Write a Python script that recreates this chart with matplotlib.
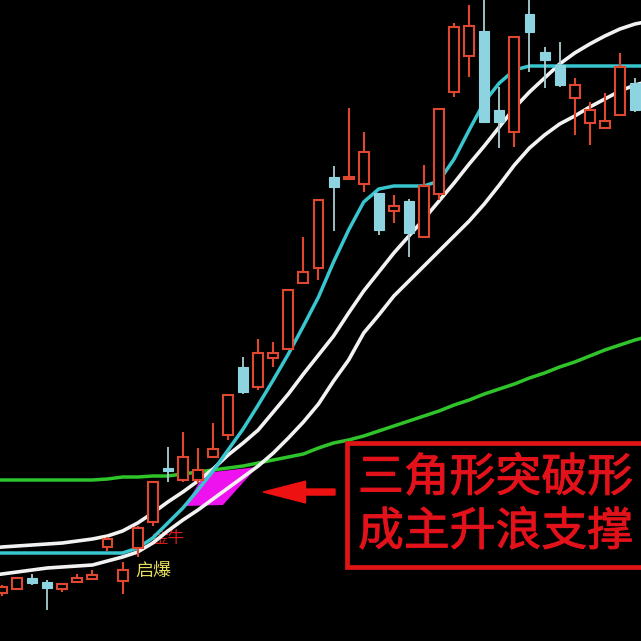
import numpy as np
import matplotlib
matplotlib.use("Agg")
import matplotlib.pyplot as plt
import matplotlib.patheffects as pe
from matplotlib.patches import Rectangle, Polygon, FancyArrow

plt.rcParams['font.family'] = ['Noto Sans CJK SC', 'DejaVu Sans']

# ---- daily bars (index 0..42) ----
opens = [4.8, 5.2, 6.3, 5.9, 5.2, 5.9, 6.2, 9.4, 6.0, 9.3,
         11.9, 17.3, 16.1, 16.1, 18.4, 20.6, 27.4, 25.4, 28.3, 29.2,
         35.8, 37.3, 46.4, 46.2, 45.7, 44.8, 43.0, 44.0, 40.4, 44.7,
         54.9, 58.5, 61.0, 53.1, 50.9, 62.7, 58.9, 57.6, 54.3, 51.8,
         51.3, 52.6, 55.8]
closes = [5.4, 6.3, 5.8, 5.3, 5.7, 6.3, 6.6, 10.2, 7.1, 11.3,
          15.9, 17.0, 18.4, 17.1, 19.2, 24.6, 24.9, 28.8, 28.8, 35.1,
          36.9, 44.1, 45.4, 46.4, 48.9, 41.1, 43.5, 40.8, 45.5, 53.2,
          61.4, 61.5, 51.9, 51.9, 60.4, 60.9, 58.1, 55.6, 55.6, 53.1,
          52.0, 57.4, 53.1]
highs = [5.6, 6.4, 6.7, 6.1, 5.8, 6.7, 7.1, 10.4, 7.9, 11.5,
         15.9, 19.4, 20.9, 19.3, 21.8, 24.6, 28.4, 30.2, 29.9, 35.1,
         40.4, 44.1, 47.5, 53.3, 50.9, 44.8, 44.6, 44.2, 47.6, 53.2,
         61.8, 63.6, 64.6, 55.4, 60.4, 64.6, 59.4, 59.9, 56.3, 53.9,
         54.8, 58.8, 56.3]
lows = [4.5, 5.1, 5.6, 3.1, 4.9, 5.9, 6.2, 9.0, 4.7, 8.4,
        11.5, 15.9, 15.9, 15.8, 18.4, 20.1, 24.7, 25.1, 27.4, 29.2,
        35.8, 36.1, 41.0, 46.2, 44.9, 40.6, 41.8, 38.4, 40.4, 44.1,
        54.4, 56.4, 51.9, 49.3, 49.4, 56.9, 55.3, 55.4, 50.6, 49.6,
        51.3, 52.6, 52.9]

# ---- indicator lines (index -1..43) ----
line_idx = list(range(-1, 44))
trend_line = [8.8] * 10 + [9.3, 10.3, 11.8, 13.3, 15.1, 17.0, 19.1, 21.2, 23.6, 26.1,
                           28.7, 31.5, 34.4, 37.9, 41.1, 43.9, 45.2, 45.5, 45.5, 45.5,
                           46.0, 48.2, 51.1, 53.9, 55.8, 57.1] + [57.5] * 9
upper_band = [9.2, 9.4, 9.5, 9.6, 9.7, 9.8, 10.0, 10.2, 10.5, 11.0,
              11.8, 12.8, 13.9, 14.9, 16.0, 17.2, 18.6, 19.8, 21.1, 22.9,
              24.7, 26.7, 28.6, 30.5, 32.8, 35.0, 36.9, 38.8, 40.5, 42.2,
              44.0, 45.8, 47.7, 49.5, 51.4, 53.3, 54.9, 56.3, 57.7, 58.8,
              59.7, 60.5, 61.2, 61.7, 62.0]
lower_band = [6.5, 6.7, 6.9, 7.1, 7.3, 7.4, 7.5, 7.6, 8.0, 8.4,
              8.9, 9.8, 11.0, 12.1, 13.1, 14.2, 15.3, 16.4, 17.5, 18.8,
              20.3, 21.9, 23.7, 26.0, 28.1, 30.8, 32.6, 34.5, 36.0, 37.5,
              39.0, 40.5, 42.0, 43.7, 45.6, 47.6, 49.3, 50.6, 51.7, 52.5,
              53.4, 54.2, 55.0, 55.6, 56.0]
long_ma = [16.1] * 8 + [16.2, 16.4, 16.4, 16.5, 16.5, 16.7, 16.9, 17.1, 17.3, 17.5,
                        17.8, 18.1, 18.4, 18.7, 19.3, 19.8, 20.1, 20.5, 21.0, 21.5,
                        22.0, 22.5, 23.0, 23.6, 24.1, 24.7, 25.2, 25.7, 26.3, 26.8,
                        27.4, 27.9, 28.5, 29.1, 29.6, 30.1, 30.5]

# highlighted breakout zone
zone_x = [13.47, 16.92, 14.66, 12.14]
zone_y = [16.8, 17.4, 13.6, 13.5]

signal_labels = ["启爆", "金牛"]
signal_pos = [(8.85, 7.0), (9.9, 10.3)]
note_lines = ["三角形突破形", "成主升浪支撑"]

UP = '#e0472f'
DOWN = '#8ed3e0'
DOWN_WICK = '#a9cdd2'
NOTE_RED = '#e3121a'

fig = plt.figure(figsize=(6.41, 6.41), dpi=100)
ax = fig.add_axes([0, 0, 1, 1])
ax.set_facecolor('black')
fig.patch.set_facecolor('black')
ax.set_xlim(-0.133, 42.4)
ax.set_ylim(0, 64.1)
ax.axis('off')

# indicator lines
ax.plot(line_idx, long_ma, color='#2fc42a', lw=2.5, zorder=2)
ax.plot(line_idx, lower_band, color='#f2f2f2', lw=2.6, zorder=3)
ax.plot(line_idx, upper_band, color='#f2f2f2', lw=2.6, zorder=3)
ax.plot(line_idx, trend_line, color='#38c6cf', lw=2.5, zorder=3)

ax.add_patch(Polygon(list(zip(zone_x, zone_y)), closed=True,
                     facecolor='#ee12ee', edgecolor='none', zorder=2.5))

# candles
w = 0.66
for i, (o, c, h, l) in enumerate(zip(opens, closes, highs, lows)):
    top, bot = max(o, c), min(o, c)
    if c >= o:
        ax.plot([i, i], [top, h], color=UP, lw=1.5, zorder=5, solid_capstyle='butt')
        ax.plot([i, i], [l, bot], color=UP, lw=1.5, zorder=5, solid_capstyle='butt')
        ax.add_patch(Rectangle((i - w / 2, bot), w, max(top - bot, 0.12),
                               facecolor='black', edgecolor=UP, lw=1.5, zorder=5))
    else:
        ax.plot([i, i], [l, h], color=DOWN_WICK, lw=1.3, zorder=5, solid_capstyle='butt')
        ax.add_patch(Rectangle((i - w / 2, bot), w, max(top - bot, 0.12),
                               facecolor=DOWN, edgecolor=DOWN, lw=0.8, zorder=6))

# signal labels
ax.text(*signal_pos[0], signal_labels[0], color='#e6df5c', fontsize=13,
        ha='left', va='center', zorder=2.8)
ax.text(*signal_pos[1], signal_labels[1], color='#d81a1a', fontsize=12,
        ha='left', va='center', zorder=2.8)

# note box with arrow
heavy = [pe.withStroke(linewidth=0.7, foreground=NOTE_RED)]
ax.add_patch(Rectangle((0.541, 0.1154), 0.50, 0.194, transform=ax.transAxes,
                       facecolor='black', edgecolor='#e01414', lw=3.4, zorder=8))
ax.text(0.5585, 0.2543, note_lines[0], transform=ax.transAxes, color=NOTE_RED,
        fontsize=33, ha='left', va='center', zorder=9, path_effects=heavy)
ax.text(0.5585, 0.170, note_lines[1], transform=ax.transAxes, color=NOTE_RED,
        fontsize=33, ha='left', va='center', zorder=9, path_effects=heavy)
ax.add_patch(FancyArrow(0.5226, 0.2324, -0.112, 0, width=0.0094, head_width=0.034,
                        head_length=0.066, length_includes_head=True,
                        transform=ax.transAxes, color='#ee1111', zorder=8))

fig.savefig('out.png', dpi=100, facecolor='black')
